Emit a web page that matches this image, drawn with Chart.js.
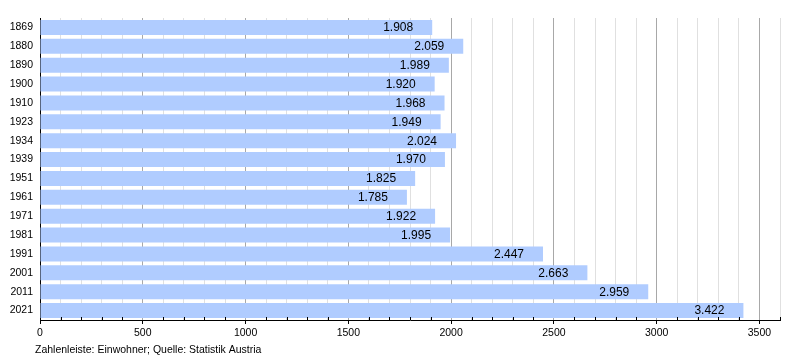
<!DOCTYPE html>
<html>
<head>
<meta charset="utf-8">
<script src="https://cdn.jsdelivr.net/npm/chart.js@4"></script>
<style>
  html, body { margin: 0; padding: 0; background: #fff; }
  #wrap { width: 800px; height: 360px; }
</style>
</head>
<body>
<div id="wrap"><canvas id="chart" width="800" height="360"></canvas></div>
<script>
// census years and inhabitants
const years = ["1869", "1880", "1890", "1900", "1910", "1923", "1934", "1939",
  "1951", "1961", "1971", "1981", "1991", "2001", "2011", "2021"];
const inhabitants = [1908, 2059, 1989, 1920, 1968, 1949, 2024, 1970,
  1825, 1785, 1922, 1995, 2447, 2663, 2959, 3422];
const footerText = "Zahlenleiste: Einwohner; Quelle: Statistik Austria";

const fontFamily = "'Liberation Sans', Arial, sans-serif";

// 1908 -> "1.908"
const formatDe = (v) => String(v).replace(/\B(?=(\d{3})+(?!\d))/g, ".");

// value labels at the end of each bar
const valueLabels = {
  id: "valueLabels",
  afterDatasetsDraw(chart) {
    const ctx = chart.ctx;
    const meta = chart.getDatasetMeta(0);
    ctx.save();
    ctx.font = "12px " + fontFamily;
    ctx.fillStyle = "#000";
    ctx.textAlign = "right";
    ctx.textBaseline = "middle";
    meta.data.forEach((bar, i) => {
      ctx.fillText(formatDe(inhabitants[i]), bar.x - 19, bar.y + 0.5);
    });
    ctx.restore();
  },
};

// small minor ticks pointing up into the plot + footer line
const extras = {
  id: "extras",
  afterDraw(chart) {
    const ctx = chart.ctx;
    const xs = chart.scales.x;
    const bottom = chart.chartArea.bottom;
    ctx.save();
    ctx.strokeStyle = "#000";
    ctx.lineWidth = 1;
    xs.ticks.forEach((t) => {
      if (t.value % 500 !== 0) {
        const px = Math.round(xs.getPixelForValue(t.value)) + 0.5;
        ctx.beginPath();
        ctx.moveTo(px, bottom);
        ctx.lineTo(px, bottom - 3);
        ctx.stroke();
      }
    });
    ctx.font = "10.5px " + fontFamily;
    ctx.fillStyle = "#000";
    ctx.textAlign = "left";
    ctx.textBaseline = "middle";
    ctx.fillText(footerText, 35, 350);
    ctx.restore();
  },
};

new Chart(document.getElementById("chart"), {
  type: "bar",
  data: {
    labels: years,
    datasets: [
      {
        data: inhabitants,
        backgroundColor: "#b0ccff",
        borderWidth: 0,
        categoryPercentage: 1,
        barPercentage: 0.8,
      },
    ],
  },
  options: {
    indexAxis: "y",
    responsive: false,
    animation: false,
    layout: { padding: { top: 18, right: 20, left: 0, bottom: 0 } },
    plugins: {
      legend: { display: false },
      tooltip: { enabled: false },
    },
    scales: {
      x: {
        min: 0,
        max: 3600,
        afterFit: (scale) => { scale.height = 40; },
        border: { display: true, color: "#000", width: 1 },
        grid: {
          color: (c) => (c.tick && c.tick.value % 500 === 0 ? "#a8a8a8" : "#e0e0e0"),
          tickColor: (c) => (c.tick && c.tick.value % 500 === 0 ? "#000" : "rgba(0,0,0,0)"),
          tickLength: 4,
          lineWidth: 1,
        },
        ticks: {
          stepSize: 100,
          autoSkip: false,
          maxRotation: 0,
          padding: 3,
          color: "#000",
          font: { family: fontFamily, size: 10.5 },
          callback: (v) => (v % 500 === 0 && v <= 3500 ? String(v) : ""),
        },
      },
      y: {
        afterFit: (scale) => { scale.width = 40; },
        border: { display: true, color: "#000", width: 1 },
        grid: { display: false, drawTicks: false },
        ticks: {
          padding: 7,
          color: "#000",
          font: { family: fontFamily, size: 10.5 },
        },
      },
    },
  },
  plugins: [valueLabels, extras],
});
</script>
</body>
</html>
